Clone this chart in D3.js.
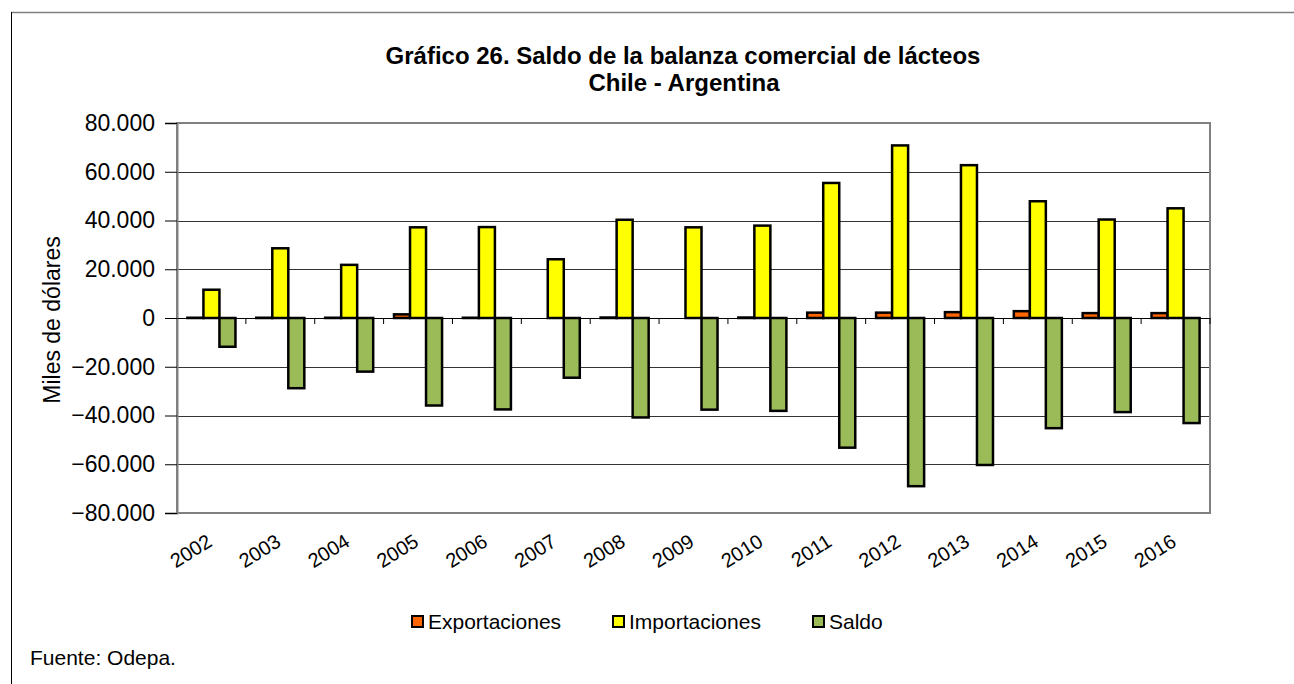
<!DOCTYPE html>
<html>
<head>
<meta charset="utf-8">
<script src="https://cdn.jsdelivr.net/npm/d3@7"></script>
<style>
  body { margin: 0; background: #fff; }
  text { font-family: "Liberation Sans", Arial, sans-serif; }
</style>
</head>
<body>
<script>
// data (miles de dólares)
var years = ["2002","2003","2004","2005","2006","2007","2008","2009","2010","2011","2012","2013","2014","2015","2016"];
var exportaciones = [100, 100, 100, 1500, 100, 0, 200, 0, 200, 2200, 2200, 2400, 2800, 2000, 2000];
var importaciones = [11600, 28600, 21800, 37200, 37300, 24100, 40300, 37200, 37900, 55400, 70800, 62700, 47900, 40400, 45000];
var saldo = [-11800, -28800, -22000, -35900, -37500, -24500, -40800, -37600, -38100, -53200, -69000, -60300, -45200, -38600, -43100];
var seriesNames = ["Exportaciones", "Importaciones", "Saldo"];
var seriesColors = ["#FF6600", "#FFFF00", "#9BBB59"];
var yTicks = [-80000, -60000, -40000, -20000, 0, 20000, 40000, 60000, 80000];

var w = 1294, h = 684;
var plot_left = 177, plot_right = 1210, plot_top = 123, plot_bottom = 513;

var svg = d3.select("body").append("svg")
	.attr("width", w)
	.attr("height", h);

// outer frame
svg.append("line").attr("x1", 11).attr("x2", w).attr("y1", 12.5).attr("y2", 12.5)
	.attr("stroke", "#808080").attr("stroke-width", 1.5);
svg.append("line").attr("x1", 11.5).attr("x2", 11.5).attr("y1", 12).attr("y2", h)
	.attr("stroke", "#000").attr("stroke-width", 1);

// title
svg.append("text").attr("x", 683).attr("y", 64).attr("text-anchor", "middle")
	.attr("font-size", "24px").attr("font-weight", "bold")
	.text("Gráfico 26. Saldo de la balanza comercial de lácteos");
svg.append("text").attr("x", 684).attr("y", 91).attr("text-anchor", "middle")
	.attr("font-size", "24px").attr("font-weight", "bold")
	.text("Chile - Argentina");

var x0 = d3.scaleBand().domain(years).range([plot_left, plot_right]).padding(0);
var x1 = d3.scaleBand().domain(seriesNames).range([0, x0.bandwidth()]).paddingInner(0).paddingOuter(0.65);
var y = d3.scaleLinear().domain([-80000, 80000]).range([plot_bottom, plot_top]);

// gridlines
svg.selectAll(".grid").data(yTicks.filter(function(d) { return d != 0 && Math.abs(d) != 80000; }))
	.enter().append("line")
	.attr("class", "grid")
	.attr("x1", plot_left).attr("x2", plot_right)
	.attr("y1", function(d) { return Math.round(y(d)) + 0.5; })
	.attr("y2", function(d) { return Math.round(y(d)) + 0.5; })
	.attr("stroke", "#333").attr("stroke-width", 1);

// plot frame
svg.append("rect").attr("x", plot_left).attr("y", plot_top)
	.attr("width", plot_right - plot_left).attr("height", plot_bottom - plot_top)
	.attr("fill", "none").attr("stroke", "#808080").attr("stroke-width", 2);

// y axis
var yAxis = d3.axisLeft(y).tickValues(yTicks).tickSize(12).tickPadding(10)
	.tickFormat(function(d) { return d == 0 ? "0" : d3.format(",")(d).replace(/,/g, "."); });
var gy = svg.append("g").attr("transform", "translate(" + plot_left + ",0)").call(yAxis);
gy.select(".domain").attr("stroke", "#808080").attr("stroke-width", 2);
gy.selectAll(".tick line").attr("stroke", "#000");
gy.selectAll("text").attr("font-size", "23px").attr("fill", "#000")
	.style("font-family", "'Liberation Sans', Arial, sans-serif");

svg.append("text")
	.attr("transform", "translate(60,320) rotate(-90)")
	.attr("text-anchor", "middle")
	.attr("font-size", "23px")
	.text("Miles de dólares");

// bars
var rows = years.map(function(yr, i) {
	return { year: yr, values: [exportaciones[i], importaciones[i], saldo[i]] };
});

var groups = svg.selectAll(".year_group").data(rows).enter().append("g")
	.attr("class", "year_group")
	.attr("transform", function(d) { return "translate(" + x0(d.year) + ",0)"; });

groups.selectAll("rect").data(function(d) {
		return d.values.map(function(v, k) { return { key: seriesNames[k], value: v, color: seriesColors[k] }; });
	})
	.enter().append("rect")
	.filter(function(d) { return d.value != 0; })
	.attr("x", function(d) { return x1(d.key); })
	.attr("width", x1.bandwidth())
	.attr("y", function(d) { return y(Math.max(0, d.value)); })
	.attr("height", function(d) { return Math.abs(y(d.value) - y(0)); })
	.attr("fill", function(d) { return d.color; })
	.attr("stroke", "#000")
	.attr("stroke-width", 2.5);

// x axis at zero
var xAxis = d3.axisBottom(x0).tickSize(0).tickFormat("");
var gx = svg.append("g").attr("transform", "translate(0," + Math.round(y(0)) + ")").call(xAxis);
gx.select(".domain").attr("stroke", "#000").attr("stroke-width", 1.2);
svg.selectAll(".xtick").data(years.slice(1).concat(["end"])).enter().append("line")
	.attr("class", "xtick")
	.attr("x1", function(d, i) { return plot_left + x0.step() * (i + 1); })
	.attr("x2", function(d, i) { return plot_left + x0.step() * (i + 1); })
	.attr("y1", y(0)).attr("y2", y(0) + 6)
	.attr("stroke", "#000").attr("stroke-width", 1);

// year labels
svg.selectAll(".year_label").data(years).enter().append("text")
	.attr("class", "year_label")
	.attr("text-anchor", "end")
	.attr("font-size", "20px")
	.attr("transform", function(d) {
		return "translate(" + (x0(d) + x0.bandwidth() / 2 + 2) + "," + (plot_bottom + 32) + ") rotate(-32)";
	})
	.text(function(d) { return d; });

// legend
var legendX = [412, 613, 813];
var legend = svg.selectAll(".legend").data(seriesNames).enter().append("g")
	.attr("class", "legend")
	.attr("transform", function(d, i) { return "translate(" + legendX[i] + ",616)"; });
legend.append("rect").attr("width", 11).attr("height", 11)
	.attr("fill", function(d, i) { return seriesColors[i]; })
	.attr("stroke", "#000").attr("stroke-width", 2);
legend.append("text").attr("x", 16).attr("y", 13)
	.attr("font-size", "21px")
	.text(function(d) { return d; });

// source
svg.append("text").attr("x", 30).attr("y", 665)
	.attr("font-size", "21px")
	.text("Fuente: Odepa.");
</script>
</body>
</html>
